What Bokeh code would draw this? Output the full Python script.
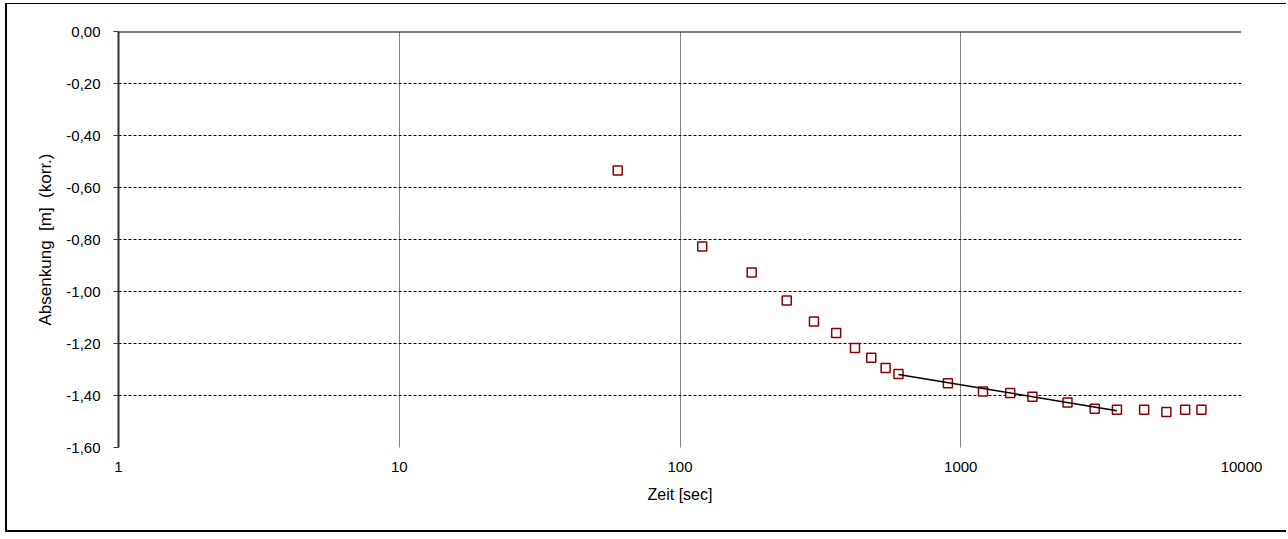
from bokeh.plotting import figure
from bokeh.models import (FixedTicker, CustomJSTickFormatter, Span, ColumnDataSource)
from bokeh.embed import file_html
from bokeh.resources import INLINE

# Data
zeit = [60, 120, 180, 240, 300, 360, 420, 480, 540, 600, 900, 1200, 1500, 1800,
        2400, 3000, 3600, 4500, 5400, 6300, 7200]
absenkung = [-0.535, -0.827, -0.927, -1.035, -1.115, -1.160, -1.217, -1.255,
             -1.294, -1.317, -1.353, -1.385, -1.390, -1.405, -1.427, -1.451,
             -1.455, -1.455, -1.463, -1.455, -1.455]
fit_x = [600, 3600]
fit_y = [-1.319, -1.459]
x_ticks = [1, 10, 100, 1000, 10000]
y_ticks = [0.0, -0.2, -0.4, -0.6, -0.8, -1.0, -1.2, -1.4, -1.6]

FONT = "Liberation Sans"

p = figure(width=1281, height=529, x_axis_type="log",
           x_range=(1, 10000), y_range=(-1.6, 0.0),
           output_backend="svg", toolbar_location=None,
           min_border_left=111, min_border_right=47,
           min_border_top=27, min_border_bottom=86)
p.styles = {"border-left": "2px solid black", "border-bottom": "2px solid black",
            "border-top": "1px solid black", "margin-left": "5px", "margin-top": "3px"}
p.outline_line_color = None
p.background_fill_color = "white"
p.border_fill_color = "white"

# X axis
p.xaxis.ticker = FixedTicker(ticks=x_ticks)
p.xaxis.formatter = CustomJSTickFormatter(code="return tick.toFixed(0);")
p.xaxis.axis_line_color = None
p.xaxis.major_tick_line_color = None
p.xaxis.minor_tick_line_color = None
p.xaxis.major_label_standoff = 8
p.xaxis.axis_label = "Zeit [sec]"
p.xaxis.axis_label_standoff = 11
p.xaxis.axis_label_text_font_style = "normal"

# Y axis
p.yaxis.ticker = FixedTicker(ticks=y_ticks)
p.yaxis.formatter = CustomJSTickFormatter(code="return tick.toFixed(2).replace('.', ',');")
p.yaxis.axis_line_color = "#333333"
p.yaxis.axis_line_width = 2
p.yaxis.major_tick_line_color = "#333333"
p.yaxis.major_tick_out = 5
p.yaxis.major_tick_in = 0
p.yaxis.minor_tick_line_color = None
p.yaxis.major_label_standoff = 13
p.yaxis.axis_label = "Absenkung\u00a0\u00a0[m]\u00a0\u00a0(korr.)"
p.yaxis.axis_label_standoff = 8
p.yaxis.axis_label_text_font_style = "normal"

for ax in (p.xaxis[0], p.yaxis[0]):
    ax.major_label_text_font = FONT
    ax.major_label_text_font_size = "15px"
    ax.major_label_text_color = "black"
    ax.axis_label_text_font = FONT
    ax.axis_label_text_color = "black"
p.xaxis.axis_label_text_font_size = "16px"
p.yaxis.axis_label_text_font_size = "17px"

# Grids
p.xgrid.ticker = FixedTicker(ticks=x_ticks)
p.xgrid.grid_line_color = "black"
p.xgrid.grid_line_dash = "1 1"
p.xgrid.grid_line_width = 1
p.ygrid.ticker = FixedTicker(ticks=y_ticks)
p.ygrid.grid_line_color = "black"
p.ygrid.grid_line_dash = "3 2"
p.ygrid.grid_line_width = 1

# Solid top line at 0,00
p.add_layout(Span(location=0.0, dimension="width", line_color="black", line_width=2))

src = ColumnDataSource(data=dict(x=zeit, y=absenkung))
p.scatter("x", "y", source=src, marker="square", size=9,
          fill_color="white", line_color="#8b0000", line_width=1.5)
p.line(fit_x, fit_y, line_color="black", line_width=1.5)

open("out.html", "w").write(file_html(p, INLINE))
